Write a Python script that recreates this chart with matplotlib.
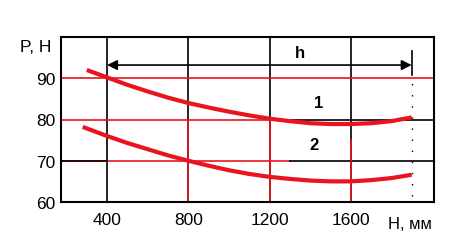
import numpy as np
import matplotlib.pyplot as plt

# Data
h1 = [300, 400, 500, 600, 700, 800, 900, 1000, 1100, 1200, 1300, 1400, 1500, 1600, 1700, 1800, 1900]
p1 = [92.0, 90.2, 88.4, 86.8, 85.3, 84.0, 82.9, 81.9, 81.0, 80.2, 79.6, 79.1, 78.9, 78.9, 79.1, 79.6, 80.5]
h2 = [280, 400, 500, 600, 700, 800, 900, 1000, 1100, 1200, 1300, 1400, 1500, 1600, 1700, 1800, 1900]
p2 = [78.2, 76.0, 74.3, 72.8, 71.3, 70.0, 68.8, 67.7, 66.8, 66.1, 65.6, 65.2, 65.0, 65.0, 65.3, 65.8, 66.6]
xticks = [400, 800, 1200, 1600]
yticks = [60, 70, 80, 90]
h_start, h_end, h_level = 400, 1900, 93.2

RED = '#e8141e'

plt.rcParams['font.family'] = ['Liberation Sans', 'DejaVu Sans']
fig = plt.figure(figsize=(4.51, 2.51), dpi=100)
ax = fig.add_axes([61/451, 1-203/251, (434-61)/451, (203-38)/251])
ax.set_xlim(173, 2010)
ax.set_ylim(60, 100)

# grid lines (mixed red/black as in the original)
for x in xticks:
    ax.axvline(x, color='black', lw=1.2, zorder=1)
ax.plot([800, 800], [60, 80], color=RED, lw=1.2, zorder=1.5)
ax.plot([1200, 1200], [60, 80], color=RED, lw=1.2, zorder=1.5)
ax.plot([1600, 1600], [60, 75], color=RED, lw=1.2, zorder=1.5)
ax.axhline(90, color=RED, lw=1.2, zorder=1.2)
ax.plot([173, 1200], [80, 80], color=RED, lw=1.2, zorder=1.2)
ax.plot([1200, 2010], [80, 80], color='black', lw=1.2, zorder=1.2)
ax.plot([173, 1300], [70, 70], color=RED, lw=1.2, zorder=1.2)
ax.plot([1300, 2010], [70, 70], color='black', lw=1.2, zorder=1.2)
ax.plot([173, 400], [70, 70], color='black', lw=1.2, zorder=1.3)

# curves
ax.plot(h1, p1, color=RED, lw=3, solid_capstyle='butt', solid_joinstyle='round', zorder=3)
ax.plot(h2, p2, color=RED, lw=3, solid_capstyle='butt', solid_joinstyle='round', zorder=3)

# h dimension arrow
ax.annotate('', xy=(h_start, h_level), xytext=(h_end, h_level),
            arrowprops=dict(arrowstyle='<|-|>', color='black', lw=1.2,
                            mutation_scale=15, shrinkA=0, shrinkB=0), zorder=4)
ax.plot([h_end, h_end], [h_level - 2.5, h_level + 3.5], color='black', lw=1.2, zorder=4)
ax.plot([h_end, h_end], [61.5, h_level - 2.5], color='black', lw=1.0,
        linestyle=(0, (1, 7)), zorder=4)
ax.text(1350, 96.3, 'h', fontsize=12, fontweight='bold', ha='center', va='center')
ax.text(1440, 84.0, '1', fontsize=12, fontweight='bold', ha='center', va='center')
ax.text(1420, 74.0, '2', fontsize=12, fontweight='bold', ha='center', va='center')

for s in ax.spines.values():
    s.set_linewidth(1.5)
ax.set_xticks(xticks)
ax.set_yticks(yticks)
ax.tick_params(length=0, labelsize=12.5, pad=7)
ax.tick_params(axis='y', pad=4)

fig.text(36/451, 1-47/251, 'P, H', fontsize=12.5, ha='center', va='center')
fig.text(410/451, 1-225/251, 'H, мм', fontsize=12, ha='center', va='center')

fig.savefig('out.png', dpi=100)
